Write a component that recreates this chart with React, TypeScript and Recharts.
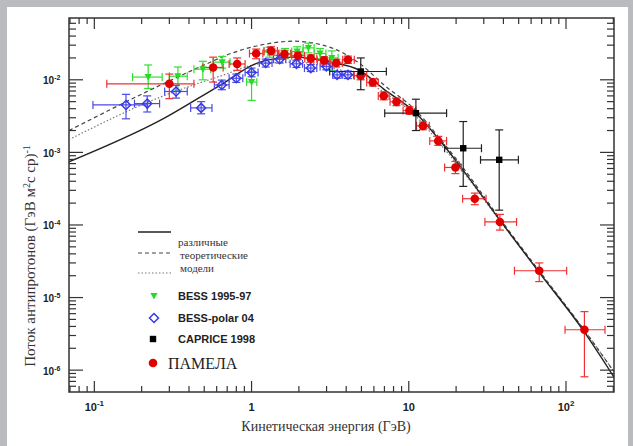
import {
  ComposedChart,
  ErrorBar,
  Label,
  Legend,
  Line,
  ReferenceArea,
  Scatter,
  XAxis,
  YAxis,
} from "recharts";

// [E, flux, E low, E high, flux low, flux high]
type Pt = [number, number, number, number, number, number];

const PAMELA: Pt[] = [
  [0.3, 8.8e-3, 0.12, 0.43, 5.5e-3, 1.2e-2],
  [0.57, 1.48e-2, 0.49, 0.66, 9.3e-3, 2.05e-2],
  [0.81, 1.65e-2, 0.72, 0.91, 1.35e-2, 2.0e-2],
  [1.07, 2.3e-2, 0.97, 1.18, 1.95e-2, 2.65e-2],
  [1.33, 2.5e-2, 1.2, 1.46, 2.2e-2, 2.85e-2],
  [1.62, 2.26e-2, 1.48, 1.78, 2.0e-2, 2.55e-2],
  [1.97, 2.14e-2, 1.8, 2.17, 1.9e-2, 2.4e-2],
  [2.38, 1.97e-2, 2.18, 2.6, 1.75e-2, 2.2e-2],
  [2.89, 1.85e-2, 2.62, 3.15, 1.65e-2, 2.08e-2],
  [3.46, 1.7e-2, 3.16, 3.78, 1.5e-2, 1.92e-2],
  [4.1, 1.89e-2, 3.8, 4.5, 1.68e-2, 2.12e-2],
  [4.94, 1.14e-2, 4.5, 5.4, 1.0e-2, 1.3e-2],
  [5.9, 9.2e-3, 5.4, 6.4, 8.2e-3, 1.03e-2],
  [6.93, 6.0e-3, 6.4, 7.5, 5.3e-3, 6.8e-3],
  [8.35, 4.97e-3, 7.6, 9.2, 4.4e-3, 5.6e-3],
  [10.1, 3.77e-3, 9.2, 11.1, 3.35e-3, 4.25e-3],
  [12.3, 2.32e-3, 11.2, 13.5, 2.05e-3, 2.62e-3],
  [15.4, 1.44e-3, 13.6, 17.4, 1.25e-3, 1.66e-3],
  [19.8, 6.2e-4, 16.9, 21.6, 5.1e-4, 7.5e-4],
  [26.3, 2.3e-4, 22, 31, 1.9e-4, 2.75e-4],
  [38, 1.1e-4, 30.5, 48.5, 8.5e-5, 1.4e-4],
  [67.6, 2.34e-5, 47, 101, 1.66e-5, 3.0e-5],
  [131, 3.6e-6, 98.6, 177, 8.1e-7, 6.4e-6],
];

const BESS_95_97: Pt[] = [
  [0.22, 1.09e-2, 0.175, 0.27, 7.6e-3, 1.6e-2],
  [0.34, 1.12e-2, 0.3, 0.39, 7.0e-3, 1.5e-2],
  [0.49, 1.4e-2, 0.43, 0.55, 1.0e-2, 1.8e-2],
  [0.65, 1.75e-2, 0.57, 0.73, 1.45e-2, 2.1e-2],
  [1.0, 9.3e-3, 0.93, 1.08, 5.2e-3, 1.3e-2],
  [1.3, 2.4e-2, 1.2, 1.41, 2.05e-2, 2.8e-2],
  [1.63, 2.3e-2, 1.5, 1.77, 1.95e-2, 2.7e-2],
  [1.95, 2.45e-2, 1.8, 2.12, 2.1e-2, 2.85e-2],
  [2.3, 2.75e-2, 2.13, 2.5, 2.35e-2, 3.2e-2],
  [2.73, 2.3e-2, 2.5, 2.97, 1.95e-2, 2.7e-2],
  [3.24, 2.0e-2, 2.97, 3.55, 1.35e-2, 2.5e-2],
];

const BESS_POLAR: Pt[] = [
  [0.159, 4.5e-3, 0.098, 0.218, 2.9e-3, 6.3e-3],
  [0.217, 4.7e-3, 0.18, 0.26, 3.6e-3, 6.0e-3],
  [0.331, 6.9e-3, 0.28, 0.39, 5.6e-3, 8.4e-3],
  [0.478, 4.1e-3, 0.41, 0.56, 3.4e-3, 5.0e-3],
  [0.647, 8.5e-3, 0.58, 0.72, 7.3e-3, 9.9e-3],
  [0.8, 1.05e-2, 0.72, 0.88, 9.2e-3, 1.2e-2],
  [1.0, 1.26e-2, 0.91, 1.1, 1.1e-2, 1.45e-2],
  [1.23, 1.7e-2, 1.12, 1.35, 1.5e-2, 1.93e-2],
  [1.51, 1.92e-2, 1.38, 1.65, 1.7e-2, 2.16e-2],
  [1.93, 1.66e-2, 1.76, 2.11, 1.48e-2, 1.86e-2],
  [2.38, 1.45e-2, 2.17, 2.6, 1.3e-2, 1.62e-2],
  [2.99, 1.53e-2, 2.73, 3.27, 1.37e-2, 1.7e-2],
  [3.5, 1.17e-2, 3.28, 3.75, 1.05e-2, 1.3e-2],
  [4.1, 1.17e-2, 3.8, 4.45, 1.04e-2, 1.32e-2],
];

const CAPRICE: Pt[] = [
  [4.95, 1.3e-2, 3.14, 7.2, 7.3e-3, 2.0e-2],
  [11.1, 3.47e-3, 7.03, 17.4, 2.0e-3, 5.4e-3],
  [22.2, 1.14e-3, 16.9, 29, 3.4e-4, 2.66e-3],
  [37.6, 7.9e-4, 28.6, 49.8, 1.6e-4, 2.04e-3],
];

// model curves [E, flux]
const MODEL_SOLID: [number, number][] = [
  [0.069, 7.4e-4], [0.262, 2.75e-3], [0.63, 8.4e-3], [1.13, 1.75e-2], [1.85, 2.05e-2],
  [3.16, 1.75e-2], [4.9, 1.34e-2], [6.9, 7.5e-3], [11.2, 3.4e-3], [15.4, 1.55e-3],
  [22.2, 5.65e-4], [38, 1.16e-4], [68.4, 2.14e-5], [129, 3.5e-6], [202, 8e-7],
];
const MODEL_DASHED: [number, number][] = [
  [0.069, 2.0e-3], [0.262, 8.4e-3], [0.519, 1.66e-2], [0.73, 2.28e-2], [1.19, 3.06e-2],
  [1.85, 3.4e-2], [3.16, 2.8e-2], [4.9, 1.66e-2], [6.9, 8.6e-3], [11.2, 3.7e-3],
  [15.4, 1.65e-3], [22.2, 6.1e-4], [38, 1.22e-4], [68.4, 2.25e-5], [129, 3.7e-6], [202, 9.5e-7],
];
const MODEL_DOTTED: [number, number][] = [
  [0.069, 1.5e-3], [0.262, 5.76e-3], [0.63, 1.12e-2], [1.13, 1.66e-2], [1.85, 1.75e-2],
  [3.16, 1.49e-2], [5.1, 1.03e-2], [6.9, 6.8e-3], [11.2, 3.1e-3], [15.4, 1.4e-3],
  [22.2, 5.4e-4], [38, 1.14e-4], [68.4, 2.2e-5], [129, 3.7e-6], [202, 9.5e-7],
];

const X_DOMAIN = [0.069, 202];
const Y_DOMAIN = [5e-7, 0.071];
const X_TICKS = [
  0.07, 0.08, 0.09, 0.1, 0.2, 0.3, 0.4, 0.5, 0.6, 0.7, 0.8, 0.9, 1, 2, 3, 4, 5, 6, 7, 8, 9,
  10, 20, 30, 40, 50, 60, 70, 80, 90, 100, 200,
];
const X_MAJOR = [0.1, 1, 10, 100];
const X_MAJOR_TEXT: [string, string][] = [["10", "-1"], ["1", ""], ["10", ""], ["10", "2"]];
const Y_TICKS = [
  6e-7, 7e-7, 8e-7, 9e-7,
  1e-6, 2e-6, 3e-6, 4e-6, 5e-6, 6e-6, 7e-6, 8e-6, 9e-6,
  1e-5, 2e-5, 3e-5, 4e-5, 5e-5, 6e-5, 7e-5, 8e-5, 9e-5,
  1e-4, 2e-4, 3e-4, 4e-4, 5e-4, 6e-4, 7e-4, 8e-4, 9e-4,
  1e-3, 2e-3, 3e-3, 4e-3, 5e-3, 6e-3, 7e-3, 8e-3, 9e-3,
  1e-2, 2e-2, 3e-2, 4e-2, 5e-2, 6e-2,
];
const Y_MAJOR = [1e-2, 1e-3, 1e-4, 1e-5, 1e-6];
const Y_MAJOR_EXP = ["-2", "-3", "-4", "-5", "-6"];

const PLOT_LEFT = 69;
const PLOT_TOP = 18;
const PLOT_RIGHT = 614;
const PLOT_BOTTOM = 392;
const INK = "#333";
const SANS = "'Liberation Sans', Arial, sans-serif";
const SERIF = "'Liberation Serif', 'Times New Roman', serif";

const toRows = (pts: Pt[]) =>
  pts.map(([e, f, eLo, eHi, fLo, fHi]) => ({ e, f, ex: [e - eLo, eHi - e], ey: [f - fLo, fHi - f] }));
const toCurve = (pts: [number, number][]) => pts.map(([e, f]) => ({ e, f }));

function XTick({ x, payload }: any) {
  const i = X_MAJOR.indexOf(payload.value);
  const len = i >= 0 ? 11 : 6;
  return (
    <g>
      <line x1={x} x2={x} y1={PLOT_BOTTOM} y2={PLOT_BOTTOM - len} stroke={INK} strokeWidth={1.2} />
      <line x1={x} x2={x} y1={PLOT_TOP} y2={PLOT_TOP + len} stroke={INK} strokeWidth={1.2} />
      {i >= 0 && (
        <text x={x} y={PLOT_BOTTOM + 19} textAnchor="middle" fontFamily={SANS} fontWeight="bold" fontSize={11} fill="#222">
          {X_MAJOR_TEXT[i][0]}
          {X_MAJOR_TEXT[i][1] && (
            <tspan dy={-5} fontSize={8}>
              {X_MAJOR_TEXT[i][1]}
            </tspan>
          )}
        </text>
      )}
    </g>
  );
}

function YTick({ y, payload }: any) {
  const i = Y_MAJOR.indexOf(payload.value);
  const len = i >= 0 ? 14 : 7;
  return (
    <g>
      <line x1={PLOT_LEFT} x2={PLOT_LEFT + len} y1={y} y2={y} stroke={INK} strokeWidth={1.2} />
      <line x1={PLOT_RIGHT - len} x2={PLOT_RIGHT} y1={y} y2={y} stroke={INK} strokeWidth={1.2} />
      {i >= 0 && (
        <text x={PLOT_LEFT - 26} y={y + 4.5} fontFamily={SANS} fontWeight="bold" fontSize={10} fill="#222">
          10
          <tspan dy={-4} fontSize={7}>
            {Y_MAJOR_EXP[i]}
          </tspan>
        </text>
      )}
    </g>
  );
}

const RedDot = ({ cx, cy }: any) => <circle cx={cx} cy={cy} r={4.3} fill="#e00000" />;
const GreenTri = ({ cx, cy }: any) => (
  <polygon points={`${cx - 3.6},${cy - 3} ${cx + 3.6},${cy - 3} ${cx},${cy + 3.6}`} fill="#22dd22" />
);
const BlueDiamond = ({ cx, cy }: any) => (
  <polygon
    points={`${cx},${cy - 4.5} ${cx + 4.5},${cy} ${cx},${cy + 4.5} ${cx - 4.5},${cy}`}
    fill="none"
    stroke="#3838e8"
    strokeWidth={1.5}
  />
);
const BlackSquare = ({ cx, cy }: any) => <rect x={cx - 3.2} y={cy - 3.2} width={6.4} height={6.4} fill="#000" />;

function ModelLegend() {
  return (
    <svg width={150} height={156}>
      <line x1={8} x2={41} y1={10} y2={10} stroke="#222" strokeWidth={1.4} />
      <line x1={8} x2={41} y1={31} y2={31} stroke="#444" strokeWidth={1.2} strokeDasharray="4 3" />
      <line x1={8} x2={41} y1={51} y2={51} stroke="#777" strokeWidth={1.2} strokeDasharray="1.5 2" />
      <g fontFamily={SERIF} fontSize={11} fill="#333">
        <text x={48} y={24}>различные</text>
        <text x={50} y={37}>теоретические</text>
        <text x={50} y={50}>модели</text>
      </g>
      <GreenTri cx={24} cy={74} />
      <BlueDiamond cx={24} cy={96} />
      <BlackSquare cx={23} cy={117} />
      <RedDot cx={23} cy={141} />
      <g fontFamily={SANS} fontWeight="bold" fontSize={11} fill="#222">
        <text x={48} y={78}>BESS 1995-97</text>
        <text x={48} y={100}>BESS-polar 04</text>
        <text x={48} y={121}>CAPRICE 1998</text>
      </g>
      <text x={38} y={147} fontFamily={SERIF} fontSize={16} fill="#222">
        ПАМЕЛА
      </text>
    </svg>
  );
}

export default function App() {
  return (
    <div style={{ position: "absolute", left: 0, top: 0, width: 633, height: 446, background: "#b9bbbe", overflow: "hidden" }}>
      <div style={{ position: "absolute", left: 7, top: 7, width: 621, height: 439, background: "#fff" }} />
      <div style={{ position: "absolute", left: 0, top: 0 }}>
        <ComposedChart width={633} height={446} margin={{ top: PLOT_TOP, right: 633 - PLOT_RIGHT, bottom: 0, left: 8 }}>
          <XAxis
            type="number"
            dataKey="e"
            scale="log"
            domain={X_DOMAIN}
            allowDataOverflow
            ticks={X_TICKS}
            interval={0}
            height={446 - PLOT_BOTTOM}
            tickSize={0}
            tickMargin={0}
            tickLine={false}
            axisLine={false}
            tick={<XTick />}
          >
            <Label
              content={() => (
                <text x={326} y={431} textAnchor="middle" fontFamily={SERIF} fontSize={14} fill="#333">
                  Кинетическая энергия (ГэВ)
                </text>
              )}
            />
          </XAxis>
          <YAxis
            type="number"
            dataKey="f"
            scale="log"
            domain={Y_DOMAIN}
            allowDataOverflow
            ticks={Y_TICKS}
            interval={0}
            width={PLOT_LEFT - 8}
            tickSize={0}
            tickMargin={0}
            tickLine={false}
            axisLine={false}
            tick={<YTick />}
          >
            <Label
              content={() => (
                <text transform="translate(35,256) rotate(-90)" textAnchor="middle" fontFamily={SERIF} fontSize={15} fill="#333">
                  Поток антипротонов (ГэВ м
                  <tspan dy={-5} fontSize={10}>2</tspan>
                  <tspan dy={5}>с ср)</tspan>
                  <tspan dy={-5} fontSize={10}>-1</tspan>
                </text>
              )}
            />
          </YAxis>
          <ReferenceArea
            x1={X_DOMAIN[0]}
            x2={X_DOMAIN[1]}
            y1={Y_DOMAIN[0]}
            y2={Y_DOMAIN[1]}
            fill="none"
            stroke={INK}
            strokeWidth={1.5}
            ifOverflow="visible"
          />
          <Line data={toCurve(MODEL_DOTTED)} dataKey="f" type="monotone" stroke="#777" strokeWidth={1.2} strokeDasharray="1.5 2" dot={false} isAnimationActive={false} />
          <Line data={toCurve(MODEL_DASHED)} dataKey="f" type="monotone" stroke="#444" strokeWidth={1.2} strokeDasharray="4 3" dot={false} isAnimationActive={false} />
          <Line data={toCurve(MODEL_SOLID)} dataKey="f" type="monotone" stroke="#222" strokeWidth={1.4} dot={false} isAnimationActive={false} />
          <Scatter data={toRows(BESS_95_97)} shape={<GreenTri />} isAnimationActive={false}>
            <ErrorBar dataKey="ex" direction="x" stroke="#33dd33" width={4} strokeWidth={1.2} />
            <ErrorBar dataKey="ey" direction="y" stroke="#33dd33" width={4} strokeWidth={1.2} />
          </Scatter>
          <Scatter data={toRows(BESS_POLAR)} shape={<BlueDiamond />} isAnimationActive={false}>
            <ErrorBar dataKey="ex" direction="x" stroke="#4a4ae8" width={4} strokeWidth={1.2} />
            <ErrorBar dataKey="ey" direction="y" stroke="#4a4ae8" width={4} strokeWidth={1.2} />
          </Scatter>
          <Scatter data={toRows(PAMELA)} shape={<RedDot />} isAnimationActive={false}>
            <ErrorBar dataKey="ex" direction="x" stroke="#f03030" width={4} strokeWidth={1.2} />
            <ErrorBar dataKey="ey" direction="y" stroke="#f03030" width={4} strokeWidth={1.2} />
          </Scatter>
          <Scatter data={toRows(CAPRICE)} shape={<BlackSquare />} isAnimationActive={false}>
            <ErrorBar dataKey="ex" direction="x" stroke="#222" width={4} strokeWidth={1.2} />
            <ErrorBar dataKey="ey" direction="y" stroke="#222" width={4} strokeWidth={1.2} />
          </Scatter>
          <Legend
            layout="vertical"
            align="center"
            verticalAlign="middle"
            content={() => <ModelLegend />}
            wrapperStyle={{ position: "absolute", left: 130, top: 222, width: 150, height: 156 }}
          />
        </ComposedChart>
      </div>
    </div>
  );
}
